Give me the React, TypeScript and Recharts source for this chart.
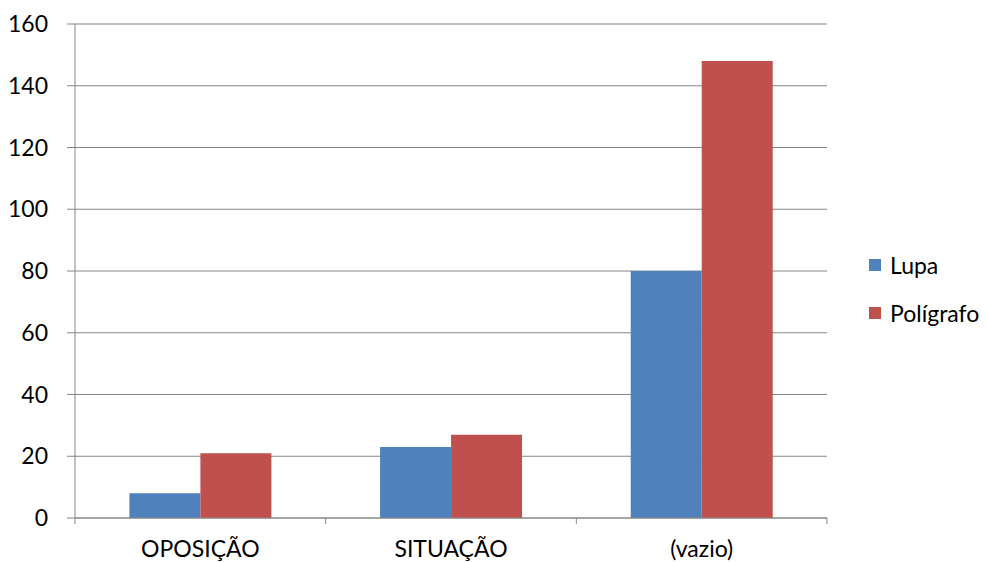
import React from "react";
import {
  BarChart,
  Bar,
  XAxis,
  YAxis,
  CartesianGrid,
} from "recharts";

const categories = ["OPOSIÇÃO", "SITUAÇÃO", "(vazio)"];
const lupa = [8, 23, 80];
const poligrafo = [21, 27, 148];
const yTicks = [0, 20, 40, 60, 80, 100, 120, 140, 160];

const data = categories.map((name, i) => ({
  name,
  Lupa: lupa[i],
  Polígrafo: poligrafo[i],
}));

const FONT = "Lato, 'Open Sans', sans-serif";
const FS = 23;
const GRID = "#868686";
const plotLeft = 75;
const plotRight = 827;
const step = (plotRight - plotLeft) / categories.length;

var CategoryTick = (props: any) => {
  const { x, y, payload, index } = props;
  const left = x - step / 2;
  return (
    <g>
      <line x1={left} y1={y - 8} x2={left} y2={y - 2} stroke={GRID} />
      {index === categories.length - 1 && (
        <line x1={left + step} y1={y - 8} x2={left + step} y2={y - 2} stroke={GRID} />
      )}
      <text
        x={x}
        y={y + 31}
        textAnchor="middle"
        fill="#000"
        fontSize={FS}
        fontFamily={FONT}
      >
        {payload.value}
      </text>
    </g>
  );
};

var LegendBox = () => {
  const items = [
    { label: "Lupa", color: "#4F81BD" },
    { label: "Polígrafo", color: "#C0504D" },
  ];
  return (
    <div
      style={{
        position: "absolute",
        left: 869,
        top: 241,
        fontFamily: FONT,
        fontSize: FS,
        color: "#000",
      }}
    >
      {items.map((it) => (
        <div
          key={it.label}
          style={{ display: "flex", alignItems: "center", height: 48 }}
        >
          <span
            style={{
              width: 12,
              height: 12,
              background: it.color,
              display: "inline-block",
              marginRight: 9,
            }}
          />
          <span>{it.label}</span>
        </div>
      ))}
    </div>
  );
};

export default function App() {
  return (
    <div style={{ position: "absolute", left: 0, top: 0, width: 987, height: 562, background: "#fff" }}>
      <BarChart
        width={987}
        height={562}
        data={data}
        margin={{ top: 24, right: 160, left: 0, bottom: 0 }}
        barCategoryGap="21.7%"
        barGap={0}
      >
        <CartesianGrid vertical={false} stroke={GRID} strokeWidth={1} />
        <YAxis
          width={75}
          domain={[0, 160]}
          ticks={yTicks}
          interval={0}
          stroke={GRID}
          tickSize={8}
          tickMargin={19}
          tick={{ fill: "#000", fontSize: FS, fontFamily: FONT }}
        />
        <XAxis
          dataKey="name"
          height={44}
          stroke={GRID}
          tickLine={false}
          interval={0}
          tick={<CategoryTick />}
        />
        <Bar dataKey="Lupa" fill="#4F81BD" isAnimationActive={false} />
        <Bar dataKey="Polígrafo" fill="#C0504D" isAnimationActive={false} />
      </BarChart>
      <LegendBox />
    </div>
  );
}
